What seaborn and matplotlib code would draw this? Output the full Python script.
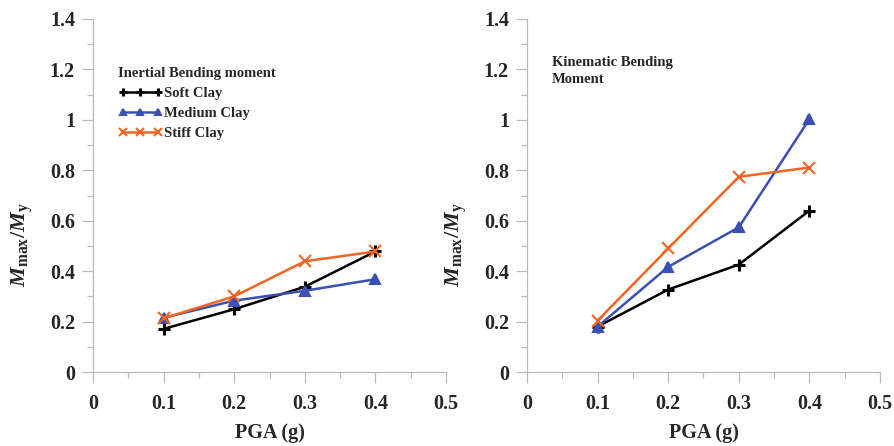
import matplotlib
matplotlib.use("Agg")
import matplotlib.pyplot as plt
import seaborn as sns
import pandas as pd
from matplotlib.ticker import MultipleLocator, FixedLocator

# ---- data ----
pga = [0.1, 0.2, 0.3, 0.4]
series_names = ["Soft Clay", "Medium Clay", "Stiff Clay"]
inertial_soft = [0.171, 0.249, 0.338, 0.478]
inertial_medium = [0.215, 0.283, 0.322, 0.368]
inertial_stiff = [0.213, 0.300, 0.439, 0.478]
kinematic_soft = [0.180, 0.327, 0.426, 0.640]
kinematic_medium = [0.180, 0.417, 0.574, 1.003]
kinematic_stiff = [0.204, 0.490, 0.774, 0.811]
xticks = [0, 0.1, 0.2, 0.3, 0.4, 0.5]
xtick_labels = ["0", "0.1", "0.2", "0.3", "0.4", "0.5"]
yticks = [0, 0.2, 0.4, 0.6, 0.8, 1.0, 1.2, 1.4]
ytick_labels = ["0", "0.2", "0.4", "0.6", "0.8", "1", "1.2", "1.4"]

sns.set_theme(style="white")
plt.rcParams["font.family"] = ["Liberation Serif", "DejaVu Serif"]
plt.rcParams["font.weight"] = "bold"
plt.rcParams["mathtext.fontset"] = "custom"
plt.rcParams["mathtext.rm"] = "Liberation Serif:bold"
plt.rcParams["mathtext.it"] = "Liberation Serif:italic:bold"
plt.rcParams["mathtext.bf"] = "Liberation Serif:bold"

colors = {"Soft Clay": "#000000", "Medium Clay": "#3A50B4", "Stiff Clay": "#F26522"}
markers = {"Soft Clay": "+", "Medium Clay": "^", "Stiff Clay": "x"}
msizes = {"Soft Clay": 8, "Medium Clay": 7, "Stiff Clay": 9}
mew = {"Soft Clay": 2.2, "Medium Clay": 1.5, "Stiff Clay": 1.5}


def make_df(soft, med, stiff):
    rows = []
    for name, vals in zip(series_names, [soft, med, stiff]):
        for x, y in zip(pga, vals):
            rows.append({"PGA": x, "val": y, "Soil": name})
    return pd.DataFrame(rows)


df_in = make_df(inertial_soft, inertial_medium, inertial_stiff)
df_kin = make_df(kinematic_soft, kinematic_medium, kinematic_stiff)

fig = plt.figure(figsize=(8.95, 4.46), dpi=100)
ax1 = fig.add_axes([93 / 895, 74 / 446, 353 / 895, 353 / 446])
ax2 = fig.add_axes([527 / 895, 74 / 446, 353 / 895, 353 / 446])

handles = {}
for ax, df in [(ax1, df_in), (ax2, df_kin)]:
    for name in series_names:
        sub = df[df["Soil"] == name]
        sns.lineplot(data=sub, x="PGA", y="val", ax=ax, color=colors[name],
                     linewidth=1.8, estimator=None, sort=False, legend=False,
                     marker=markers[name], markersize=msizes[name],
                     markeredgewidth=mew[name], markeredgecolor=colors[name],
                     markerfacecolor=colors[name])
        if ax is ax1:
            handles[name] = ax.lines[-1]

    ax.set_xlim(0, 0.5)
    ax.set_ylim(0, 1.4)
    ax.xaxis.set_major_locator(FixedLocator(xticks))
    ax.set_xticklabels(xtick_labels)
    ax.xaxis.set_minor_locator(MultipleLocator(0.05))
    ax.yaxis.set_major_locator(FixedLocator(yticks))
    ax.set_yticklabels(ytick_labels)
    ax.yaxis.set_minor_locator(MultipleLocator(0.1))
    ax.tick_params(which="major", direction="out", length=8, width=0.9, color="#BBBBBB",
                   labelsize=14.5, bottom=True, left=True)
    ax.tick_params(axis="x", which="major", pad=8)
    ax.tick_params(axis="y", which="major", pad=5)
    ax.tick_params(which="minor", direction="out", length=4, width=0.9, color="#BBBBBB",
                   bottom=True, left=True)
    for lab in ax.get_xticklabels() + ax.get_yticklabels():
        lab.set_fontweight("bold")
    for s in ["top", "right"]:
        ax.spines[s].set_visible(False)
    for s in ["left", "bottom"]:
        ax.spines[s].set_color("#BBBBBB")
        ax.spines[s].set_linewidth(0.9)
    ax.set_xlabel("PGA (g)", fontsize=14.5, fontweight="bold", labelpad=6)
    ax.set_ylabel(r"$M_{\mathrm{max}}/M_{\mathrm{y}}$", fontsize=16, labelpad=10)
    ax.yaxis.set_label_coords(-0.164, 0.36)

leg = ax1.legend([handles[n] for n in series_names], series_names,
                 title="Inertial Bending moment", loc="upper left",
                 bbox_to_anchor=(0.035, 0.90), frameon=False, numpoints=3,
                 markerscale=0.7,
                 handlelength=3.0, handletextpad=0.1, labelspacing=0.45,
                 prop={"weight": "bold", "size": 10.5},
                 title_fontproperties={"weight": "bold", "size": 10.5})
leg._legend_box.align = "left"

ax2.text(0.07, 0.894, "Kinematic Bending\nMoment", transform=ax2.transAxes,
         fontsize=10.5, fontweight="bold", va="top", ha="left", linespacing=1.33)

fig.savefig("out.png", dpi=100)
